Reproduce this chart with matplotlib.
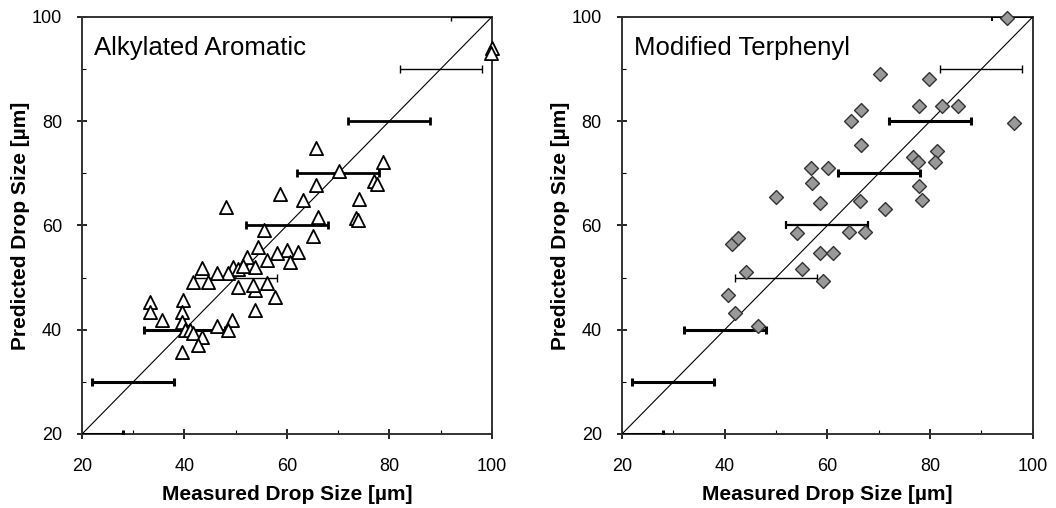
import matplotlib
matplotlib.use("Agg")
import matplotlib.pyplot as plt
import numpy as np

plt.rcParams['font.family'] = ['Liberation Sans', 'DejaVu Sans']

# measured vs predicted drop size
aa_meas = [100, 99.8, 65.7, 78.7, 70.1, 77.0, 77.5, 65.7, 74.0, 48.1, 58.6, 63.1,
           73.5, 73.8, 66.0, 65.1, 55.6, 54.3, 60.0, 62.1, 58.0, 52.2, 56.1, 60.6,
           53.8, 49.5, 50.5, 51.5, 48.5, 43.4, 46.3, 41.7, 44.6, 50.4, 53.8, 53.4,
           56.1, 57.7, 53.8, 39.7, 33.3, 33.3, 35.6, 39.5, 39.5, 49.3, 46.3, 48.5,
           40.1, 41.1, 41.7, 43.4, 42.6, 39.5]
aa_pred = [94.0, 93.0, 74.8, 72.2, 70.4, 68.6, 68.0, 67.8, 65.0, 63.5, 66.0, 64.9,
           61.5, 61.0, 61.7, 57.9, 59.2, 55.9, 55.3, 54.9, 54.7, 54.0, 53.4, 53.0,
           52.0, 52.0, 51.6, 52.3, 50.8, 51.9, 50.9, 49.2, 49.2, 48.2, 47.6, 48.6,
           49.0, 46.3, 43.8, 45.7, 45.3, 43.4, 41.9, 43.4, 41.5, 41.9, 40.7, 40.0,
           40.0, 40.0, 39.4, 38.6, 37.1, 35.7]

mt_meas = [94.9, 70.2, 79.7, 77.8, 82.3, 85.4, 66.5, 64.6, 96.3, 66.5, 81.3, 76.6,
           77.6, 80.9, 56.8, 60.1, 57.0, 77.8, 50.0, 58.5, 66.3, 78.4, 71.2, 54.0,
           64.2, 67.3, 41.4, 42.6, 58.5, 61.0, 44.1, 55.0, 59.1, 40.6, 42.0, 46.5]
mt_pred = [99.8, 89.1, 88.1, 83.0, 83.0, 83.0, 82.2, 80.1, 79.7, 75.5, 74.3, 73.2,
           72.2, 72.2, 71.1, 71.1, 68.2, 67.6, 65.5, 64.3, 64.7, 64.9, 63.2, 58.6,
           58.8, 58.8, 56.5, 57.6, 54.7, 54.7, 51.1, 51.7, 49.4, 46.7, 43.2, 40.7]

# +/- 8 um bands around the parity line
band_levels = [20, 30, 40, 50, 60, 70, 80, 90, 100]
band_half = 8
aa_band_lw = [2.2, 2.2, 2.2, 1.0, 2.0, 2.0, 2.0, 1.0, 1.0]
mt_band_lw = [2.2, 2.2, 2.2, 1.0, 1.6, 2.2, 2.2, 1.0, 1.4]

ticks = [20, 40, 60, 80, 100]

fig = plt.figure(figsize=(10.56, 5.08), dpi=100)
ax1 = fig.add_axes([0.0777, 0.1457, 0.388, 0.821])
ax2 = fig.add_axes([0.589, 0.1457, 0.389, 0.821])


def setup(ax, title):
    ax.set_xlim(20, 100)
    ax.set_ylim(20, 100)
    ax.set_xticks(ticks)
    ax.set_yticks(ticks)
    ax.set_xticks(range(30, 100, 20), minor=True)
    ax.set_yticks(range(30, 100, 20), minor=True)
    ax.tick_params(which='both', labelsize=13)
    ax.tick_params(which='major', direction='inout', length=7, width=1.2)
    ax.tick_params(which='minor', direction='in', length=3, width=0.8)
    ax.tick_params(axis='x', which='major', pad=14)
    ax.tick_params(axis='y', which='major', pad=11)
    for s in ax.spines.values():
        s.set_linewidth(1.4)
        s.set_color('#333333')
    ax.set_xlabel('Measured Drop Size [\u00b5m]', fontsize=15, fontweight='bold', labelpad=7)
    ax.set_ylabel('Predicted Drop Size [\u00b5m]', fontsize=15, fontweight='bold', labelpad=1)
    ax.text(0.03, 0.925, title, transform=ax.transAxes, fontsize=18.5, va='center')
    ax.plot([20, 100], [20, 100], color='black', lw=0.8, zorder=2)


def bands(ax, lws):
    for lev, lw in zip(band_levels, lws):
        ax.errorbar([lev], [lev], xerr=band_half, fmt='none', ecolor='black',
                    elinewidth=lw, capsize=3, capthick=lw, zorder=3)


setup(ax1, 'Alkylated Aromatic')
bands(ax1, aa_band_lw)
ax1.scatter(aa_meas, aa_pred, marker='^', s=90, facecolors='white',
            edgecolors='black', linewidths=1.3, zorder=4, clip_on=False)

setup(ax2, 'Modified Terphenyl')
bands(ax2, mt_band_lw)
ax2.scatter(mt_meas, mt_pred, marker='D', s=50, facecolors='#999999',
            edgecolors='#333333', linewidths=1.0, zorder=4, clip_on=False)

fig.savefig('out.png', dpi=100)
